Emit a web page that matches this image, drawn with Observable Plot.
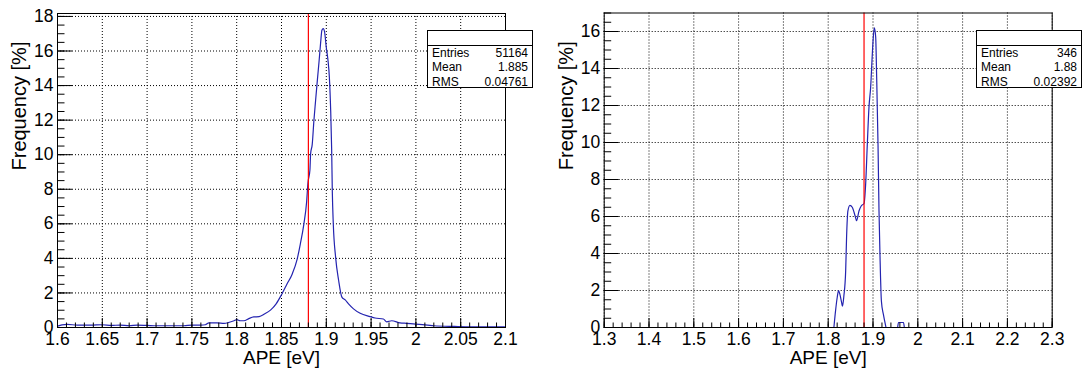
<!DOCTYPE html>
<html>
<head>
<meta charset="utf-8">
<script src="https://cdn.jsdelivr.net/npm/d3@7"></script>
<script src="https://cdn.jsdelivr.net/npm/@observablehq/plot@0.6"></script>
<style>
html, body { margin: 0; padding: 0; background: #fff; }
#wrap { position: relative; width: 1085px; height: 372px; display: flex; overflow: hidden; }
.pane { position: relative; }
.stats { position: absolute; background: #fff; border: 1px solid #000; box-sizing: border-box;
  font-family: "Liberation Sans", Arial, sans-serif; font-size: 12px; color: #000; }
.stats .hdr { height: 14px; border-bottom: 1px solid #000; }
.stats .row { display: flex; justify-content: space-between; padding: 0 4px; height: 14.3px; line-height: 14.3px; }
</style>
</head>
<body>
<div id="wrap"></div>
<script>
// ---------- data ----------
const leftX = [1.600,1.605,1.611,1.622,1.637,1.650,1.660,1.670,1.680,1.689,1.700,1.711,1.726,1.741,1.750,1.760,1.765,1.769,1.778,1.786,1.791,1.797,1.800,1.804,1.808,1.814,1.819,1.825,1.831,1.838,1.844,1.850,1.856,1.862,1.8675,1.871,1.875,1.878,1.8795,1.8817,1.8825,1.8843,1.8862,1.888,1.890,1.892,1.8937,1.8951,1.8966,1.8981,1.900,1.9019,1.9034,1.9049,1.906,1.9067,1.9078,1.9104,1.9137,1.9174,1.9211,1.9248,1.9304,1.9378,1.9489,1.9544,1.9637,1.9674,1.973,1.9822,1.9896,2.000,2.013,2.020,2.043,2.061,2.099];
const leftY = [0.08,0.15,0.18,0.14,0.14,0.16,0.12,0.14,0.10,0.14,0.12,0.10,0.10,0.10,0.14,0.14,0.16,0.27,0.27,0.24,0.29,0.39,0.45,0.39,0.39,0.53,0.61,0.63,0.78,1.02,1.37,1.90,2.50,3.10,3.96,4.83,6.00,7.25,8.35,9.10,10.05,10.60,12.00,13.10,14.30,15.45,16.50,17.20,17.30,17.10,16.20,15.45,14.50,12.55,10.25,7.90,6.00,4.06,2.75,1.76,1.60,1.37,1.08,0.82,0.63,0.55,0.49,0.33,0.39,0.27,0.24,0.20,0.14,0.10,0.06,0.04,0.04];

const rightX = [1.8127,1.8164,1.8201,1.8231,1.826,1.830,1.8318,1.835,1.839,1.841,1.844,1.8485,1.8537,1.860,1.8634,1.8687,1.874,1.880,1.8836,1.8873,1.891,1.8948,1.8985,1.9007,1.903,1.906,1.9082,1.9112,1.9134,1.9157,1.9187,1.9231,1.926,1.929, 1.955,1.957,1.968,1.970];
const rightY = [0,0.9,1.62,2.0,1.8,1.35,1.15,1.71,3.06,4.86,6.3,6.6,6.5,6.04,5.77,6.3,6.58,6.7,7.75,9.9,11.9,13.0,14.8,15.7,16.2,15.7,13.5,9.9,6.3,3.8,1.44,0.72,0.36,0, 0,0.27,0.27,0];
const rightSeg = [0,0,0,0,0,0,0,0,0,0,0,0,0,0,0,0,0,0,0,0,0,0,0,0,0,0,0,0,0,0,0,0,0,0, 1,1,1,1];

const meanLine = [1.88];

const leftXTicks = [1.6,1.65,1.7,1.75,1.8,1.85,1.9,1.95,2.0,2.05,2.1];
const leftXLabels = ["1.6","1.65","1.7","1.75","1.8","1.85","1.9","1.95","2","2.05","2.1"];
const leftYTicks = [0,2,4,6,8,10,12,14,16,18];
const rightXTicks = [1.3,1.4,1.5,1.6,1.7,1.8,1.9,2.0,2.1,2.2,2.3];
const rightXLabels = ["1.3","1.4","1.5","1.6","1.7","1.8","1.9","2","2.1","2.2","2.3"];
const rightYTicks = [0,2,4,6,8,10,12,14,16];

const statNames = ["Entries","Mean","RMS"];
const leftStats = ["51164","1.885","0.04761"];
const rightStats = ["346","1.88","0.02392"];

const xTitle = "APE [eV]";
const yTitle = "Frequency [%]";

// ---------- drawing ----------
function panel(cfg) {
  const data = cfg.xs.map((x, i) => ({x, y: cfg.ys[i], s: cfg.seg ? cfg.seg[i] : 0}));
  const xl = new Map(cfg.xTicks.map((t, i) => [t, cfg.xLabels[i]]));
  const grid = {stroke: "#000", strokeOpacity: 1, strokeWidth: 1, strokeDasharray: "1,2"};
  return Plot.plot({
    width: cfg.width, height: 372,
    marginLeft: cfg.ml, marginRight: cfg.mr, marginTop: cfg.mt, marginBottom: cfg.mb,
    style: {fontFamily: "'Liberation Sans', Arial, sans-serif", fontSize: "17.5px", background: "#fff", color: "#000"},
    x: {domain: cfg.xDomain, label: null},
    y: {domain: cfg.yDomain, label: null},
    marks: [
      Plot.gridX(cfg.xTicks, grid),
      Plot.gridY(cfg.yTicks, grid),
      Plot.line(data, {x: "x", y: "y", z: "s", curve: "monotone-x", stroke: "#2424b0", strokeWidth: 1.2}),
      Plot.ruleX(meanLine, {stroke: "#ff0000", strokeWidth: 1.2}),
      Plot.axisX(cfg.xMinor, {tickSize: 4.5, dy: -4.5, tickFormat: () => "", label: null}),
      Plot.axisX(cfg.xTicks, {tickSize: 9, dy: -9, tickFormat: () => "", label: null}),
      Plot.axisX(cfg.xTicks, {tickSize: 0, tickPadding: 5, tickFormat: d => xl.get(d), label: null}),
      Plot.axisY(cfg.yMinor, {tickSize: 7.5, dx: 7.5, tickFormat: () => "", label: null}),
      Plot.axisY(cfg.yTicks, {tickSize: 15, dx: 15, tickFormat: () => "", label: null}),
      Plot.axisY(cfg.yTicks, {tickSize: 0, tickPadding: 4, tickFormat: d => String(d), label: null}),
      Plot.frame({stroke: "#000", strokeWidth: 1}),
      Plot.text([xTitle], {frameAnchor: "bottom", dy: 30, fontSize: 19, lineAnchor: "middle"}),
      Plot.text([yTitle], {frameAnchor: "left", rotate: -90, dx: cfg.ytDx, fontSize: 20, lineAnchor: "middle"})
    ]
  });
}

function statsBox(pane, vals, left, top) {
  const box = document.createElement("div");
  box.className = "stats";
  box.style.left = left + "px"; box.style.top = top + "px";
  box.style.width = "106px"; box.style.height = "58px";
  const h = document.createElement("div"); h.className = "hdr"; box.appendChild(h);
  statNames.forEach((n, i) => {
    const r = document.createElement("div"); r.className = "row";
    const a = document.createElement("span"); a.textContent = n;
    const b = document.createElement("span"); b.textContent = vals[i];
    r.appendChild(a); r.appendChild(b); box.appendChild(r);
  });
  pane.appendChild(box);
}

const wrap = document.getElementById("wrap");

const p1 = document.createElement("div"); p1.className = "pane"; p1.style.width = "545px";
p1.appendChild(panel({
  width: 545, ml: 57, mr: 40, mt: 13, mb: 45,
  xDomain: [1.6, 2.1], yDomain: [0, 18.17],
  xTicks: leftXTicks, xLabels: leftXLabels, xMinor: d3.range(1.6, 2.1001, 0.01),
  yTicks: leftYTicks, yMinor: d3.range(0, 18.01, 0.5),
  xs: leftX, ys: leftY, seg: null, ytDx: -38
}));
statsBox(p1, leftStats, 427, 30);
wrap.appendChild(p1);

const p2 = document.createElement("div"); p2.className = "pane"; p2.style.width = "540px";
p2.appendChild(panel({
  width: 540, ml: 58.7, mr: 33.3, mt: 12.5, mb: 45,
  xDomain: [1.3, 2.3], yDomain: [0, 17.0],
  xTicks: rightXTicks, xLabels: rightXLabels, xMinor: d3.range(1.3, 2.3001, 0.02),
  yTicks: rightYTicks, yMinor: d3.range(0, 17.01, 0.5),
  xs: rightX, ys: rightY, seg: rightSeg, ytDx: -37.7
}));
statsBox(p2, rightStats, 431, 30);
wrap.appendChild(p2);
</script>
</body>
</html>
